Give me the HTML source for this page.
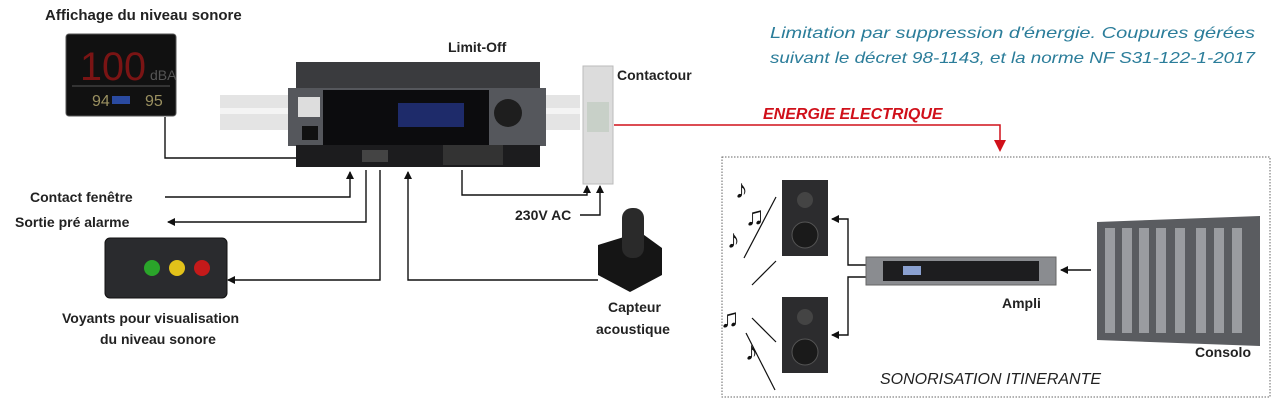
<!DOCTYPE html>
<html><head><meta charset="utf-8"><style>
html,body{margin:0;padding:0;background:#fff;}
svg{display:block;}
text{font-family:"Liberation Sans",sans-serif;}
</style></head><body>
<svg width="1280" height="420" viewBox="0 0 1280 420" xmlns="http://www.w3.org/2000/svg">
<defs>
<marker id="a" markerWidth="8" markerHeight="8" refX="7" refY="4" orient="auto" markerUnits="userSpaceOnUse"><path d="M0,0 L8,4 L0,8z" fill="#111"/></marker>
<marker id="r" markerWidth="12" markerHeight="12" refX="10" refY="6" orient="auto" markerUnits="userSpaceOnUse"><path d="M0,0 L12,6 L0,12z" fill="#d0101a"/></marker>
</defs>
<!-- top right text -->
<text x="770" y="38" font-size="16" font-style="italic" fill="#2b7d9a" textLength="485" lengthAdjust="spacingAndGlyphs">Limitation par suppression d'énergie. Coupures gérées</text>
<text x="770" y="63" font-size="16" font-style="italic" fill="#2b7d9a" textLength="485" lengthAdjust="spacingAndGlyphs">suivant le décret 98-1143, et la norme NF S31-122-1-2017</text>
<!-- display -->
<text x="45" y="20" font-size="15" font-weight="bold" fill="#222">Affichage du niveau sonore</text>
<rect x="66" y="34" width="110" height="82" rx="3" fill="#111" stroke="#555"/>
<text x="80" y="80" font-size="40" fill="#7a1414" font-weight="normal" textLength="66" lengthAdjust="spacingAndGlyphs">100</text>
<text x="150" y="80" font-size="14" fill="#555">dBA</text>
<line x1="72" y1="86" x2="170" y2="86" stroke="#555"/>
<text x="92" y="106" font-size="16" fill="#9a9060">94</text>
<rect x="112" y="96" width="18" height="8" fill="#2a4aa0"/>
<text x="145" y="106" font-size="16" fill="#9a9060">95</text>
<!-- rail -->
<rect x="220" y="95" width="360" height="35" fill="#e4e4e4"/>
<rect x="220" y="108" width="360" height="6" fill="#f4f4f4"/>
<!-- Limit-Off -->
<text x="448" y="52" font-size="14" font-weight="bold" fill="#222">Limit-Off</text>
<rect x="296" y="62" width="244" height="44" fill="#3a3b3e"/>
<rect x="288" y="88" width="258" height="58" fill="#55575c"/>
<rect x="323" y="90" width="166" height="55" fill="#0c0c0e"/>
<rect x="398" y="103" width="66" height="24" fill="#1e2b6a"/>
<rect x="298" y="97" width="22" height="20" fill="#ddd"/>
<rect x="302" y="126" width="16" height="14" fill="#111"/>
<circle cx="508" cy="113" r="14" fill="#1e1e1e"/>
<rect x="296" y="145" width="244" height="22" fill="#1c1c1e"/>
<rect x="362" y="150" width="26" height="12" fill="#444"/>
<rect x="443" y="145" width="60" height="20" fill="#333"/>
<!-- contactour -->
<rect x="583" y="66" width="30" height="118" fill="#dcdcdc" stroke="#bbb"/>
<rect x="587" y="102" width="22" height="30" fill="#c8d0c8"/>
<text x="617" y="80" font-size="14" font-weight="bold" fill="#222">Contactour</text>
<!-- energy -->
<path d="M614 125 H1000 V150" fill="none" stroke="#d0101a" stroke-width="1.5" marker-end="url(#r)"/>
<text x="763" y="119" font-size="16" font-weight="bold" font-style="italic" fill="#d0101a">ENERGIE ELECTRIQUE</text>
<!-- connectors -->
<g fill="none" stroke="#111" stroke-width="1.4">
<path d="M165 117 V158 H296"/>
<path d="M165 197 H350 V172" marker-end="url(#a)"/>
<path d="M366 170 V222 H168" marker-end="url(#a)"/>
<path d="M380 170 V280 H228" marker-end="url(#a)"/>
<path d="M598 280 H408 V172" marker-end="url(#a)"/>
<path d="M462 170 V195 H587 V186" marker-end="url(#a)"/>
<path d="M580 215 H600 V186" marker-end="url(#a)"/>
</g>
<text x="30" y="202" font-size="14" font-weight="bold" fill="#222">Contact fenêtre</text>
<text x="15" y="227" font-size="14" font-weight="bold" fill="#222">Sortie pré alarme</text>
<text x="515" y="220" font-size="14" font-weight="bold" fill="#222">230V AC</text>
<!-- voyants -->
<rect x="105" y="238" width="122" height="60" rx="5" fill="#2a2b2e" stroke="#111"/>
<circle cx="152" cy="268" r="8" fill="#2aa52a"/>
<circle cx="177" cy="268" r="8" fill="#e2c21a"/>
<circle cx="202" cy="268" r="8" fill="#c41a1a"/>
<text x="62" y="323" font-size="14" font-weight="bold" fill="#222">Voyants pour visualisation</text>
<text x="100" y="344" font-size="14" font-weight="bold" fill="#222">du niveau sonore</text>
<!-- capteur -->
<path d="M598 245 L640 232 L662 248 L662 275 L630 292 L598 275z" fill="#151515"/>
<rect x="622" y="208" width="22" height="50" rx="10" fill="#2a2a2a"/>
<text x="608" y="312" font-size="14" font-weight="bold" fill="#222">Capteur</text>
<text x="596" y="334" font-size="14" font-weight="bold" fill="#222">acoustique</text>
<!-- sono box -->
<rect x="722" y="157" width="548" height="240" fill="none" stroke="#666" stroke-dasharray="1.5,1.5"/>
<rect x="782" y="180" width="46" height="76" fill="#2c2c2e"/>
<circle cx="805" cy="235" r="13" fill="#1a1a1a" stroke="#555"/>
<circle cx="805" cy="200" r="8" fill="#444"/>
<rect x="782" y="297" width="46" height="76" fill="#2c2c2e"/>
<circle cx="805" cy="352" r="13" fill="#1a1a1a" stroke="#555"/>
<circle cx="805" cy="317" r="8" fill="#444"/>
<g stroke="#111" stroke-width="1.2">
<line x1="776" y1="197" x2="744" y2="258"/><line x1="776" y1="261" x2="752" y2="285"/>
<line x1="752" y1="318" x2="776" y2="342"/><line x1="746" y1="333" x2="775" y2="390"/>
</g>
<g font-size="26" fill="#111"><text x="735" y="198">♪</text><text x="745" y="225">♫</text><text x="727" y="248">♪</text><text x="720" y="327">♫</text><text x="745" y="360">♪</text></g>
<g fill="none" stroke="#111" stroke-width="1.4">
<path d="M866 265 H848 V219 H832" marker-end="url(#a)"/>
<path d="M866 277 H848 V335 H832" marker-end="url(#a)"/>
<path d="M1091 270 H1061" marker-end="url(#a)"/>
</g>
<rect x="866" y="257" width="190" height="28" fill="#8a8c90" stroke="#666"/>
<rect x="883" y="261" width="156" height="20" fill="#1d1d1f"/>
<rect x="903" y="266" width="18" height="9" fill="#8aa0d0"/>
<text x="1002" y="308" font-size="14" font-weight="bold" fill="#222">Ampli</text>
<path d="M1097 222 L1260 216 L1260 346 L1097 340z" fill="#5a5c60"/>
<g fill="#9a9ca0"><rect x="1105" y="228" width="10" height="105"/><rect x="1122" y="228" width="10" height="105"/><rect x="1139" y="228" width="10" height="105"/><rect x="1156" y="228" width="10" height="105"/><rect x="1175" y="228" width="10" height="105"/><rect x="1196" y="228" width="10" height="105"/><rect x="1214" y="228" width="10" height="105"/><rect x="1232" y="228" width="10" height="105"/></g>
<text x="1195" y="357" font-size="14" font-weight="bold" fill="#222">Consolo</text>
<text x="880" y="384" font-size="16" font-style="italic" fill="#222">SONORISATION ITINERANTE</text>
</svg>
</body></html>
